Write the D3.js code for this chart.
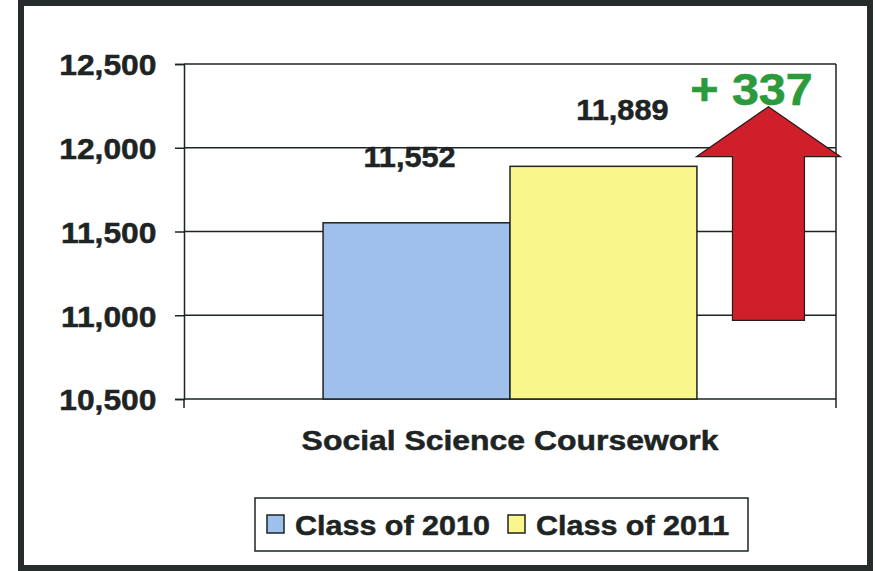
<!DOCTYPE html>
<html>
<head>
<meta charset="utf-8">
<script src="https://cdn.jsdelivr.net/npm/d3@7"></script>
<style>
  html, body { margin: 0; padding: 0; background: #ffffff; }
  svg { display: block; }
  text { font-family: "Liberation Sans", Arial, sans-serif; font-weight: bold; fill: #1d2423; }
</style>
</head>
<body>
<svg id="chart" width="875" height="571"></svg>
<script>
// Chart data
const categories = ["Social Science Coursework"];
const seriesNames = ["Class of 2010", "Class of 2011"];
const seriesValues = [11552, 11889];
const seriesColors = ["#a0c0ec", "#f9f68c"];
const yTicks = [10500, 11000, 11500, 12000, 12500];
// Annotation arrow span (in axis units)
const arrowSpan = [10970, 12245];

const ink = "#1d2423";
const W = 875, H = 571;
const margin = { left: 184, right: 39, top: 64, bottom: 172 };
const svg = d3.select("#chart");

// Outer frame
svg.append("rect")
  .attr("x", 21).attr("y", 3).attr("width", 849).attr("height", 565)
  .attr("fill", "#fff").attr("stroke", "#262b2b").attr("stroke-width", 6);

const plotW = W - margin.left - margin.right;
const plotH = H - margin.top - margin.bottom;
const g = svg.append("g").attr("transform", `translate(${margin.left},${margin.top})`);

const y = d3.scaleLinear().domain([yTicks[0], yTicks[yTicks.length - 1]]).range([plotH, 0]);
const x0 = d3.scaleBand().domain(categories).range([0, plotW]).paddingInner(0).paddingOuter(0.372);
const x1 = d3.scaleBand().domain(seriesNames).range([0, x0.bandwidth()]);

// Gridlines
g.append("g").selectAll("line").data(yTicks).join("line")
  .attr("x1", 0).attr("x2", plotW)
  .attr("y1", d => y(d)).attr("y2", d => y(d))
  .attr("stroke", ink).attr("stroke-width", 1.5);

// Plot right edge
g.append("line").attr("x1", plotW).attr("x2", plotW).attr("y1", 0).attr("y2", plotH)
  .attr("stroke", ink).attr("stroke-width", 1.5);

// Y axis
const yAxis = g.append("g").call(
  d3.axisLeft(y).tickValues(yTicks).tickFormat(d3.format(",")).tickSize(9).tickPadding(17)
);
yAxis.select(".domain").attr("stroke", ink).attr("stroke-width", 1.5);
yAxis.selectAll(".tick line").attr("stroke", ink).attr("stroke-width", 1.5);
yAxis.selectAll(".tick text")
  .style("font-size", "30px").attr("fill", ink)
  .attr("stroke", ink).attr("stroke-width", 0.5)
  .attr("transform", "scale(1.06,1)").attr("dy", "0.36em");

// Category boundary ticks under the baseline
g.append("g").selectAll("line").data([0, plotW]).join("line")
  .attr("x1", d => d).attr("x2", d => d).attr("y1", plotH).attr("y2", plotH + 9)
  .attr("stroke", ink).attr("stroke-width", 1.5);

// Bars
const group = g.append("g").attr("transform", `translate(${x0(categories[0])},0)`);
group.selectAll("rect").data(seriesValues).join("rect")
  .attr("x", (d, i) => x1(seriesNames[i]))
  .attr("width", x1.bandwidth())
  .attr("y", d => y(d))
  .attr("height", d => plotH - y(d))
  .attr("fill", (d, i) => seriesColors[i])
  .attr("stroke", ink).attr("stroke-width", 1.5);

// Value labels
const labelShift = [{ dx: -7, dy: -56 }, { dx: 19, dy: -46 }];
group.selectAll("text.value").data(seriesValues).join("text")
  .attr("class", "value")
  .attr("text-anchor", "middle")
  .attr("stroke", ink).attr("stroke-width", 0.5)
  .attr("transform", (d, i) =>
    `translate(${x1(seriesNames[i]) + x1.bandwidth() / 2 + labelShift[i].dx},${y(d) + labelShift[i].dy}) scale(1.06,1)`)
  .style("font-size", "29px")
  .text(d => d3.format(",")(d));

// Increase arrow, centred in the space right of the bars
const barsEnd = x0(categories[0]) + x0.bandwidth();
const ax = (barsEnd + plotW) / 2 + 2;
const shaftHalf = 36, headHalf = 72, headH = 50;
const aTop = y(arrowSpan[1]), aBot = y(arrowSpan[0]);
const arrowPts = [
  [ax, aTop],
  [ax + headHalf, aTop + headH],
  [ax + shaftHalf, aTop + headH],
  [ax + shaftHalf, aBot],
  [ax - shaftHalf, aBot],
  [ax - shaftHalf, aTop + headH],
  [ax - headHalf, aTop + headH]
];
g.append("path")
  .attr("d", d3.line()(arrowPts) + "Z")
  .attr("fill", "#cf1f2a").attr("stroke", "#2a1a1a").attr("stroke-width", 1.2)
  .attr("stroke-linejoin", "miter");

// Difference label
const diff = seriesValues[1] - seriesValues[0];
g.append("text")
  .attr("text-anchor", "middle")
  .attr("transform", `translate(${ax - 17},${aTop - 2}) scale(1.1,1)`)
  .style("font-size", "44px").style("fill", "#2b9a3b")
  .attr("stroke", "#2b9a3b").attr("stroke-width", 0.6)
  .text("+ " + d3.format(",")(diff));

// Category axis title
g.append("text")
  .attr("text-anchor", "middle")
  .attr("stroke", ink).attr("stroke-width", 0.5)
  .attr("transform", `translate(${plotW / 2},${plotH + 51}) scale(1.14,1)`)
  .style("font-size", "28px")
  .text(categories[0]);

// Legend
const legend = svg.append("g").attr("transform", "translate(255,498)");
legend.append("rect").attr("width", 493).attr("height", 53)
  .attr("fill", "#fff").attr("stroke", ink).attr("stroke-width", 1.5);
const legendX = [12, 253];
const items = legend.selectAll("g.item").data(seriesNames).join("g")
  .attr("class", "item")
  .attr("transform", (d, i) => `translate(${legendX[i]},0)`);
items.append("rect")
  .attr("x", 0).attr("y", 17).attr("width", 17).attr("height", 18)
  .attr("fill", (d, i) => seriesColors[i]).attr("stroke", ink).attr("stroke-width", 1.5);
items.append("text")
  .attr("stroke", ink).attr("stroke-width", 0.5)
  .attr("transform", "translate(28,37) scale(1.09,1)")
  .style("font-size", "28px")
  .text(d => d);
</script>
</body>
</html>
